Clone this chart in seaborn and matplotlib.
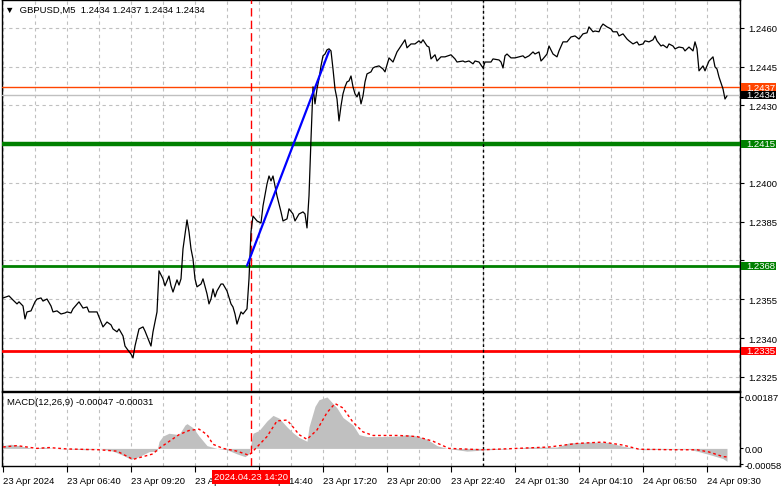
import matplotlib
matplotlib.use('Agg')
import matplotlib.pyplot as plt
from matplotlib.patches import Rectangle
import seaborn as sns

# GBPUSD M5 closes (bar index, price)
price_bar = [0, 3, 5, 7, 8, 10, 11, 12, 14, 16, 17, 19, 20, 22, 24, 25, 27, 29, 31, 32,
             34, 35, 38, 40, 42, 43, 45, 47, 49, 50, 52, 54, 55, 57, 58, 60, 61, 62, 64, 65,
             66, 68, 70, 71, 74, 75, 77, 78, 80, 81, 83, 84, 85, 87, 88, 89, 90, 92, 93, 94,
             95, 96, 97, 99, 100, 102, 103, 104, 105, 106, 107, 109, 110, 112, 114, 115, 116, 117, 119, 120,
             122, 123, 124, 125, 127, 129, 130, 132, 133, 134, 135, 136, 137, 139, 140, 142, 143, 145, 146, 148,
             150, 151, 152, 153, 154, 155, 156, 157, 158, 159, 160, 161, 162, 163, 164, 165, 166, 167, 168, 169,
             170, 171, 172, 173, 174, 175, 176, 177, 178, 179, 180, 181, 182, 184, 185, 186, 188, 190, 191, 193,
             195, 197, 199, 200, 201, 202, 204, 206, 208, 209, 210, 212, 213, 214, 216, 217, 219, 221, 224, 226,
             227, 230, 231, 233, 235, 236, 238, 240, 241, 244, 245, 248, 249, 250, 251, 252, 254, 256, 258, 260,
             261, 263, 265, 266, 268, 269, 270, 272, 273, 275, 277, 278, 280, 282, 284, 286, 288, 290, 292, 293,
             295, 296, 298, 299, 300, 302, 304, 305, 307, 308, 310, 312, 313, 315, 317, 318, 320, 321, 323, 325,
             326, 327, 329, 330, 332, 333, 335, 336, 338, 340, 341, 343, 345, 346, 347, 348, 350, 351, 352, 353,
             355, 356, 357, 358, 360, 361, 362]
price_close = [1.23555, 1.23563, 1.23547, 1.23532, 1.23540, 1.23524, 1.23474, 1.23501, 1.23505, 1.23540,
               1.23551, 1.23555, 1.23543, 1.23551, 1.23524, 1.23501, 1.23505, 1.23493, 1.23497, 1.23501,
               1.23497, 1.23513, 1.23540, 1.23516, 1.23520, 1.23501, 1.23501, 1.23501, 1.23462, 1.23443,
               1.23462, 1.23451, 1.23435, 1.23424, 1.23435, 1.23408, 1.23369, 1.23358, 1.23338, 1.23323,
               1.23369, 1.23435, 1.23443, 1.23427, 1.23369, 1.23424, 1.23501, 1.23660, 1.23629, 1.23602,
               1.23640, 1.23602, 1.23578, 1.23625, 1.23605, 1.23629, 1.23745, 1.23857, 1.23811, 1.23745,
               1.23706, 1.23629, 1.23598, 1.23609, 1.23629, 1.23571, 1.23532, 1.23551, 1.23590, 1.23559,
               1.23582, 1.23609, 1.23609, 1.23582, 1.23532, 1.23520, 1.23493, 1.23454, 1.23501, 1.23493,
               1.23513, 1.23629, 1.23811, 1.23872, 1.23853, 1.23845, 1.23911, 1.23996, 1.24027, 1.24008,
               1.24027, 1.23989, 1.23950, 1.23888, 1.23853, 1.23861, 1.23900, 1.23880, 1.23853, 1.23880,
               1.23888, 1.23880, 1.23826, 1.23950, 1.24170, 1.24372, 1.24306, 1.24364, 1.24403, 1.24453,
               1.24492, 1.24499, 1.24515, 1.24519, 1.24511, 1.24441, 1.24364, 1.24325, 1.24240, 1.24298,
               1.24345, 1.24372, 1.24391, 1.24395, 1.24414, 1.24372, 1.24345, 1.24333, 1.24352, 1.24306,
               1.24337, 1.24391, 1.24422, 1.24430, 1.24445, 1.24449, 1.24453, 1.24441, 1.24430, 1.24484,
               1.24468, 1.24507, 1.24530, 1.24542, 1.24554, 1.24523, 1.24538, 1.24538, 1.24550, 1.24542,
               1.24554, 1.24530, 1.24526, 1.24480, 1.24496, 1.24472, 1.24488, 1.24488, 1.24496, 1.24480,
               1.24468, 1.24472, 1.24468, 1.24472, 1.24461, 1.24472, 1.24468, 1.24445, 1.24468, 1.24468,
               1.24480, 1.24476, 1.24468, 1.24445, 1.24492, 1.24499, 1.24484, 1.24484, 1.24488, 1.24492,
               1.24484, 1.24492, 1.24507, 1.24499, 1.24507, 1.24472, 1.24480, 1.24499, 1.24530, 1.24499,
               1.24488, 1.24511, 1.24546, 1.24546, 1.24565, 1.24569, 1.24557, 1.24577, 1.24581, 1.24604,
               1.24585, 1.24588, 1.24585, 1.24604, 1.24615, 1.24604, 1.24596, 1.24585, 1.24585, 1.24569,
               1.24577, 1.24557, 1.24550, 1.24538, 1.24546, 1.24534, 1.24538, 1.24550, 1.24546, 1.24554,
               1.24569, 1.24550, 1.24530, 1.24534, 1.24523, 1.24538, 1.24530, 1.24519, 1.24526, 1.24523,
               1.24511, 1.24526, 1.24511, 1.24546, 1.24519, 1.24434, 1.24453, 1.24434, 1.24453, 1.24472,
               1.24488, 1.24449, 1.24441, 1.24410, 1.24364, 1.24325, 1.24337]

# MACD(12,26,9) histogram and signal line
macd_bar = [0, 4, 8, 15, 20, 25, 32, 42, 48, 55, 60, 64, 68, 73, 77, 78, 80, 83, 88, 91,
            92, 95, 98, 102, 107, 112, 117, 121, 123, 125, 128, 132, 135, 138, 142, 145, 148, 152, 153, 156,
            158, 162, 167, 170, 175, 178, 182, 190, 198, 202, 207, 212, 217, 222, 232, 242, 252, 263, 277, 283,
            293, 302, 310, 320, 330, 343, 347, 353, 360, 362]
macd_hist = [0.0001, 0.00015, 0.0001, 0.0, 0.00005, 0.0, -0.00002, -0.00005, 0.0, -0.0001,
             -0.00025, -0.0004, -0.0003, -0.00012, -0.0001, 0.00025, 0.00045, 0.00055, 0.0005, 0.00085,
             0.0009, 0.00075, 0.00045, 0.0001, 0.0, -0.00005, -0.0002, -0.0003, -0.0002, 0.00055,
             0.00065, 0.001, 0.0012, 0.0011, 0.00078, 0.00057, 0.0004, 0.00026, 0.00078, 0.00153,
             0.00177, 0.00187, 0.00147, 0.00112, 0.00085, 0.0005, 0.00043, 0.00043, 0.00045, 0.0005,
             0.00045, 0.00033, 0.0001, 0.0, -0.0001, -0.00005, -0.00002, 0.00005, 0.00005, 0.0002,
             0.00023, 0.00022, 0.00008, -0.00005, -0.00003, -0.00003, -0.0001, -0.00022, -0.00037, -0.00047]
sig_bar = [0, 7, 12, 17, 23, 32, 48, 57, 65, 70, 75, 78, 83, 88, 93, 98, 102, 105, 110, 117,
           123, 127, 132, 137, 142, 145, 148, 152, 157, 162, 166, 170, 175, 180, 185, 198, 207, 215, 223, 240,
           257, 273, 287, 300, 310, 318, 335, 347, 353, 360, 362]
sig_val = [0.00005, 0.0001, 0.00005, 0.0, 0.00003, -0.00002, -0.00005, -0.0001, -0.0004, -0.0003,
           -0.0002, 0.0, 0.00025, 0.0005, 0.00065, 0.0007, 0.0005, 0.00015, 0.0, -0.0001,
           -0.00025, 0.00005, 0.00043, 0.001, 0.00103, 0.00078, 0.0005, 0.00033, 0.00067, 0.0013,
           0.00163, 0.00147, 0.00095, 0.0006, 0.00047, 0.00047, 0.00043, 0.00026, 0.0, -0.00005,
           0.0, 0.00005, 0.00018, 0.00023, 0.00012, -0.00003, -0.00005, -0.00005, -0.00013, -0.0003, -0.00031]

# trend line and horizontal levels
trend_bar = [122, 163]
trend_price = [1.2368, 1.2451]
level_prices = [1.2437, 1.2434, 1.2415, 1.2368, 1.2335]
level_text = ['1.2437', '1.2434', '1.2415', '1.2368', '1.2335']
signal_bar = 124      # 2024.04.23 14:20
day_bar = 240         # 24 Apr 00:00

price_ticks = [1.2325, 1.2340, 1.2355, 1.2370, 1.2385, 1.2400, 1.2415, 1.2430, 1.2445, 1.2460]
macd_ticks = [0.00187, 0.0, -0.00058]
macd_tick_text = ['0.00187', '0.00', '-0.00058']
time_bars = [0, 32, 64, 96, 128, 160, 192, 224, 256, 288, 320, 352]
time_text = ['23 Apr 2024', '23 Apr 06:40', '23 Apr 09:20', '23 Apr 12:00', '23 Apr 14:40',
             '23 Apr 17:20', '23 Apr 20:00', '23 Apr 22:40', '24 Apr 01:30', '24 Apr 04:10',
             '24 Apr 06:50', '24 Apr 09:30']

sns.set_theme(style='white')
plt.rcParams['font.family'] = ['Liberation Sans', 'DejaVu Sans']
fs = 6.8

W, H = 781, 489
fig = plt.figure(figsize=(W / 100, H / 100), dpi=100)
fig.patch.set_facecolor('white')
ax = fig.add_axes([2 / W, 1 - 392 / H, 738 / W, 391 / H])
ax2 = fig.add_axes([2 / W, 1 - 467 / H, 738 / W, 74 / H])

grid_kw = dict(color='#c0c0c0', linestyle=(0, (3, 3)), linewidth=0.8)

# ---- price panel ----
sns.lineplot(x=price_bar, y=price_close, color='black', linewidth=0.9, ax=ax, zorder=4)
sns.lineplot(x=trend_bar, y=trend_price, color='#0000ff', linewidth=1.6, ax=ax, zorder=5)

level_colors = ['#ff4500', '#c0c0c0', '#008000', '#008000', '#ff0000']
level_widths = [1.0, 1.0, 3.2, 2.0, 2.0]
box_colors = ['#ff4500', '#000000', '#008000', '#008000', '#ff0000']
for p, c, w in zip(level_prices, level_colors, level_widths):
    ax.axhline(p, color=c, linewidth=w, zorder=3)

ax.axvline(signal_bar, color='#ff0000', linewidth=1, linestyle=(0, (6, 3)), zorder=3)
ax.axvline(day_bar, color='black', linewidth=1, linestyle=(0, (2, 2)), zorder=3)

ax.set_xlim(-0.5, 368.5)
ax.set_ylim(1.23195, 1.24708)
ax.set_xticks(list(range(0, 369, 16)))
ax.set_xticklabels([])
ax.tick_params(axis='x', length=0)
ax.yaxis.tick_right()
ax.set_yticks(price_ticks)
# labels under the level boxes are hidden, as in the terminal
ax.set_yticklabels(['' if t in (1.2370, 1.2415) else '%.4f' % t for t in price_ticks])
ax.tick_params(axis='y', length=3, width=0.8, pad=3, labelsize=fs, colors='black', right=True)
ax.grid(True, **grid_kw)
ax.set_xlabel('')
ax.set_ylabel('')
for s in ax.spines.values():
    s.set_color('black')
    s.set_linewidth(1)

ytr = ax.get_yaxis_transform()
box_h = 0.0003
for p, t, c in zip(level_prices, level_text, box_colors):
    ax.add_patch(Rectangle((1.002, p - box_h / 2), 0.047, box_h, transform=ytr,
                           facecolor=c, edgecolor='none', clip_on=False, zorder=9))
    ax.text(1.0085, p + 0.00001, t, transform=ytr, ha='left', va='center',
            color='white', fontsize=fs, zorder=10, clip_on=False)

fig.text(5 / W, 1 - 10 / H, '\u25bc  GBPUSD,M5  1.2434 1.2437 1.2434 1.2434',
         fontsize=fs, va='center', ha='left', color='black')

# ---- MACD panel ----
ax2.fill_between(macd_bar, 0, macd_hist, color='#c0c0c0', linewidth=0, zorder=2)
sns.lineplot(x=sig_bar, y=sig_val, color='#ff0000', linewidth=1, linestyle=(0, (2, 2)), ax=ax2, zorder=4)
ax2.axvline(signal_bar, color='#ff0000', linewidth=1, linestyle=(0, (6, 3)), zorder=3)
ax2.axvline(day_bar, color='black', linewidth=1, linestyle=(0, (2, 2)), zorder=3)

ax2.set_xlim(-0.5, 368.5)
ax2.set_ylim(-0.00064, 0.00205)
ax2.set_xticks(time_bars)
ax2.set_xticklabels(time_text, ha='left')
ax2.set_xticks(list(range(0, 369, 16)), minor=True)
ax2.tick_params(axis='x', which='major', length=4, width=0.8, pad=3, labelsize=fs, colors='black', bottom=True)
ax2.tick_params(axis='x', which='minor', length=0)
ax2.grid(True, axis='x', which='both', **grid_kw)
ax2.yaxis.tick_right()
ax2.set_yticks(macd_ticks)
ax2.set_yticklabels(macd_tick_text)
ax2.tick_params(axis='y', length=2, width=0.8, pad=1, labelsize=fs, colors='black', right=True)
ax2.set_xlabel('')
ax2.set_ylabel('')
for s in ax2.spines.values():
    s.set_color('black')
    s.set_linewidth(1)

ax2.text(5 / 738, 0.87, 'MACD(12,26,9) -0.00047 -0.00031', transform=ax2.transAxes,
         fontsize=fs, va='center', ha='left', color='black')

fig.text(251 / W, 1 - 478 / H, '2024.04.23 14:20', fontsize=fs, color='white',
         ha='center', va='center', zorder=10,
         bbox=dict(boxstyle='square,pad=0.25', fc='#ff0000', ec='none'))

fig.savefig('out.png', dpi=100, facecolor='white')
